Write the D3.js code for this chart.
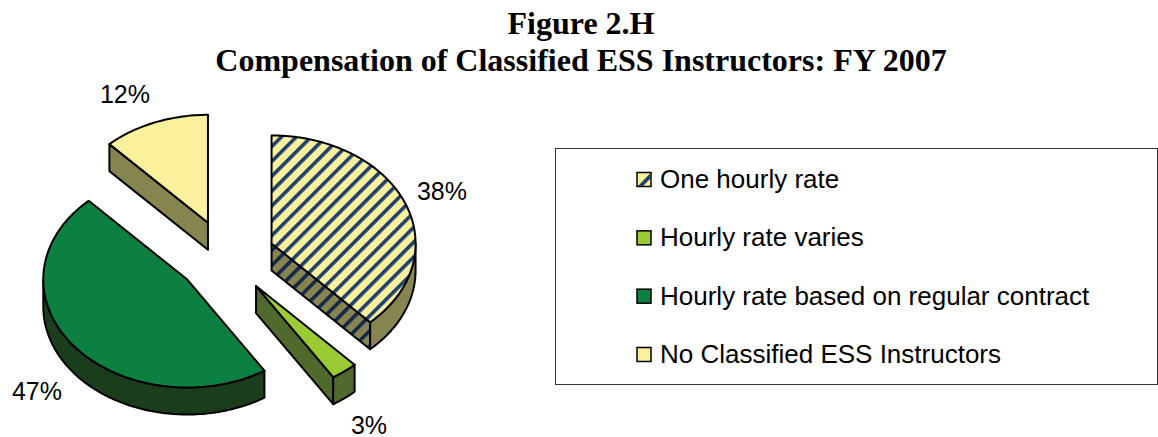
<!DOCTYPE html>
<html><head><meta charset="utf-8">
<script src="https://cdn.jsdelivr.net/npm/d3@7"></script>
<style>html,body{margin:0;padding:0;background:#fff}svg{display:block}</style>
</head><body><svg id="c" width="1158" height="437"></svg>
<script>
const titleLines = ["Figure 2.H", "Compensation of Classified ESS Instructors: FY 2007"];
const categories = ["One hourly rate", "Hourly rate varies", "Hourly rate based on regular contract", "No Classified ESS Instructors"];
const shares = [38, 3, 47, 12];
const valueLabels = ["38%", "3%", "47%", "12%"];

const W = 1158, H = 437;
const rx = 144, ry = 108, depth = 27, explode = 49, cx = 226, cy = 257;
const topFill = ["url(#stripes)", "#9acb34", "#0b8040", "#fbf19c"];
const sideFill = ["#86854f", "#4f6a2c", "#1a3d1b", "#86854f"];
const labelAt = [[442,191],[369,425],[37,391],[125,94]];

const svg = d3.select("#c");
const defs = svg.append("defs");
const stripe = (id, bg, fg) => {
  const p = defs.append("pattern").attr("id", id).attr("patternUnits", "userSpaceOnUse")
    .attr("width", 10.5).attr("height", 10.5).attr("patternTransform", "rotate(-45)");
  p.append("rect").attr("width", 10.5).attr("height", 10.5).attr("fill", bg);
  p.append("rect").attr("y", 0).attr("width", 10.5).attr("height", 3.6).attr("fill", fg);
};
stripe("stripes", "#fbf19c", "#1f3f6e");
stripe("stripesDark", "#86854f", "#13294a");

// Title
svg.append("g").selectAll("text").data(titleLines).join("text")
  .attr("x", 581).attr("y", (d,i)=> 34 + i*36.5)
  .attr("text-anchor","middle")
  .attr("font-family","'Liberation Serif',serif").attr("font-weight","bold").attr("font-size",32)
  .text(d=>d);

// Pie
const arcs = d3.pie().sort(null).value(d=>d).startAngle(0).endAngle(2*Math.PI)(shares);
const sx = d3.scaleLinear().domain([-1,1]).range([-rx,rx]);
const sy = d3.scaleLinear().domain([-1,1]).range([-ry,ry]);
const pt = (a, o) => [o[0] + sx(Math.sin(a)), o[1] - sy(Math.cos(a))];
const arcPts = (a0,a1) => {
  const n = Math.max(2, Math.ceil((a1-a0)/0.02));
  return d3.range(n+1).map(i => a0 + (a1-a0)*i/n);
};
const line = d3.line();
const down = p => [p[0], p[1]+depth];
const g = svg.append("g").attr("stroke","#000").attr("stroke-width",2).attr("stroke-linejoin","round");
const order = [3,0,2,1];
order.forEach(i => {
  const s = arcs[i], mid = (s.startAngle+s.endAngle)/2;
  const o = [cx + sx(Math.sin(mid))*explode/rx, cy - sy(Math.cos(mid))*explode/rx];
  const a0 = s.startAngle, a1 = s.endAngle;
  const cut = (a, fill) => {
    const e = pt(a,o);
    g.append("path").attr("d", line([o,e,down(e),down(o)])+"Z").attr("fill",fill);
  };
  const cutFill = i===0 ? "url(#stripesDark)" : sideFill[i];
  if (Math.sin(a0) < -1e-6) cut(a0, cutFill);
  if (Math.sin(a1) > 1e-6) cut(a1, cutFill);
  const lo = Math.max(a0, Math.PI/2), hi = Math.min(a1, 3*Math.PI/2);
  if (hi > lo) {
    const top = arcPts(lo,hi).map(a=>pt(a,o));
    g.append("path").attr("d", line(top.concat(top.slice().reverse().map(down)))+"Z").attr("fill",sideFill[i]);
  }
  const rim = arcPts(a0,a1).map(a=>pt(a,o));
  g.append("path").attr("d", line([o].concat(rim))+"Z").attr("fill",topFill[i]);
});

// Value labels
const font = "'Liberation Sans',Arial,sans-serif";
svg.append("g").selectAll("text").data(valueLabels).join("text")
  .attr("x",(d,i)=>labelAt[i][0]).attr("y",(d,i)=>labelAt[i][1]+8.5)
  .attr("text-anchor","middle").attr("font-family",font).attr("font-size",25).attr("fill","#000")
  .text(d=>d);

// Legend
svg.append("rect").attr("x",555.5).attr("y",148.5).attr("width",602).attr("height",236)
  .attr("fill","#fff").attr("stroke","#333").attr("stroke-width",1);
const ly = d3.scalePoint().domain(categories).range([179,354]);
const lg = svg.append("g").selectAll("g").data(categories).join("g")
  .attr("transform",d=>`translate(0,${ly(d)})`);
lg.append("rect").attr("x",637).attr("y",-6.5).attr("width",14).attr("height",14)
  .attr("fill",(d,i)=>i===0?"#fbf19c":topFill[i]).attr("stroke","#000").attr("stroke-width",1.5);
lg.filter((d,i)=>i===0).append("path").attr("d",d3.line()([[638,7],[650,-5.5],[650,0],[643,7]]))
  .attr("fill","#1f3f6e");
lg.append("text").attr("x",660).attr("y",9).attr("font-family",font).attr("font-size",26).attr("fill","#000").text(d=>d);
</script></body></html>
